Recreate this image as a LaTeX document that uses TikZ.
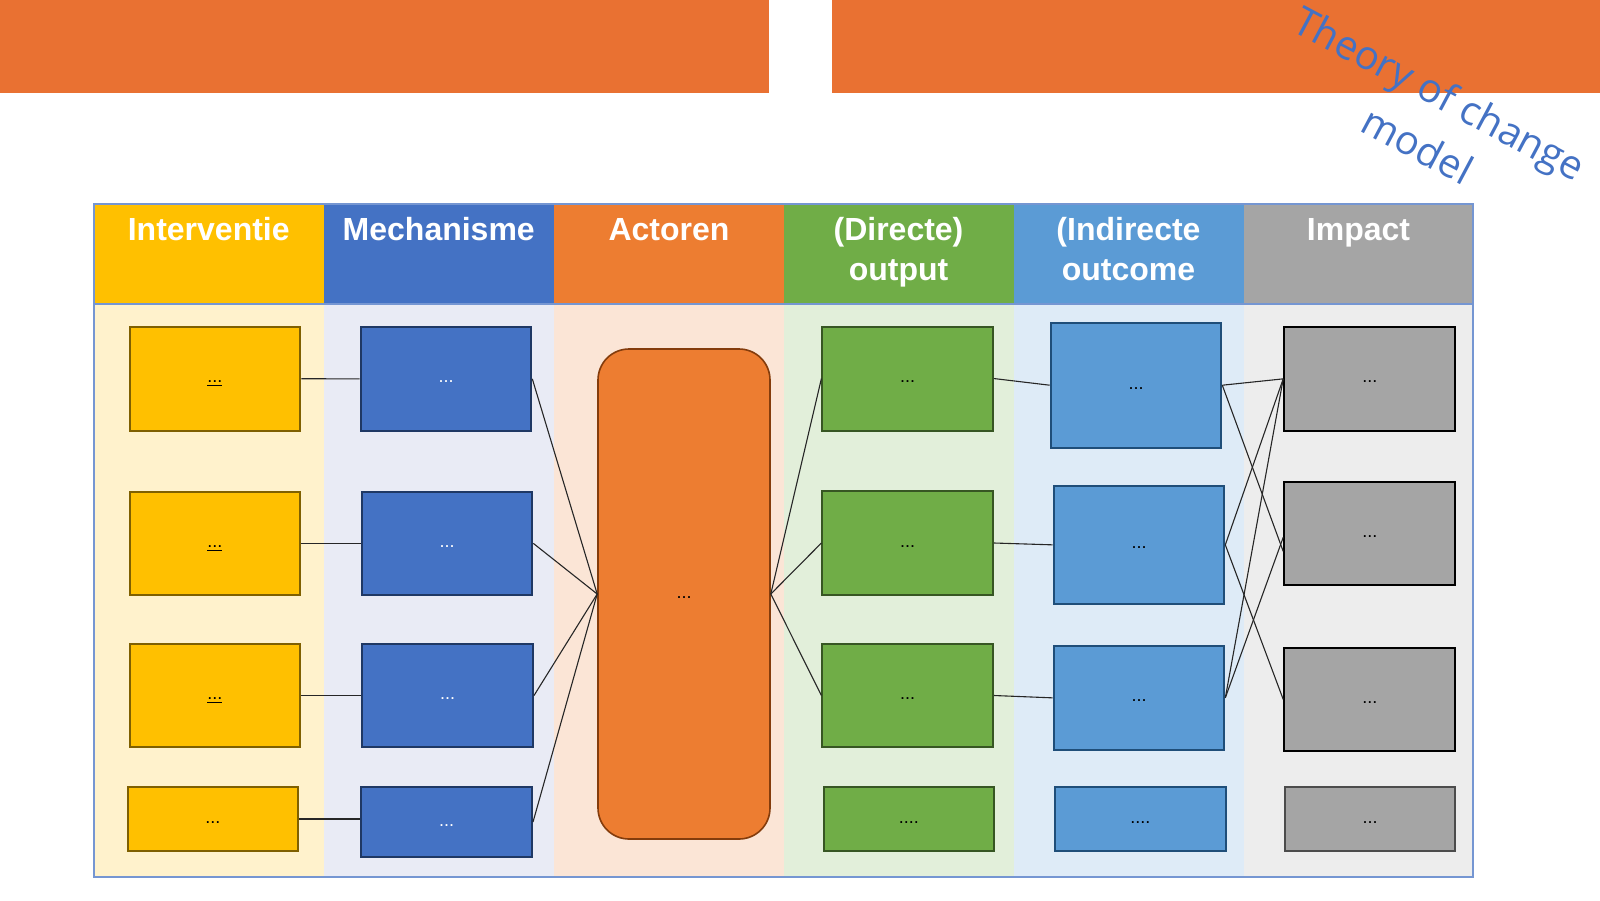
\documentclass[tikz,border=0pt]{standalone}
\usepackage{fontspec}
\setmainfont{Liberation Sans}
\newfontfamily\titlefont{Open Sans}
\usetikzlibrary{calc}
\definecolor{barorange}{HTML}{E97132}
\definecolor{hyellow}{HTML}{FFC000}
\definecolor{hblue}{HTML}{4472C4}
\definecolor{horange}{HTML}{ED7D31}
\definecolor{hgreen}{HTML}{70AD47}
\definecolor{hlblue}{HTML}{5B9BD5}
\definecolor{hgray}{HTML}{A5A5A5}
\definecolor{byellow}{HTML}{FFF2CC}
\definecolor{bblue}{HTML}{E9EBF5}
\definecolor{borange}{HTML}{FBE5D6}
\definecolor{bgreen}{HTML}{E2EFDA}
\definecolor{blblue}{HTML}{DEEBF7}
\definecolor{bgray}{HTML}{EDEDED}
\definecolor{kyellow}{HTML}{7F6000}
\definecolor{kblue}{HTML}{1F3864}
\definecolor{korange}{HTML}{843C0C}
\definecolor{kgreen}{HTML}{375623}
\definecolor{klblue}{HTML}{1F4E79}
\definecolor{tblline}{HTML}{7596D2}
\definecolor{titleblue}{HTML}{4472C4}
\newcommand\tocbox[7]{\node[#6, minimum width={(#4-#2)*0.5pt}, minimum height={(#5-#3)*0.5pt}] (#1) at ({(#2+#4)/2},{(#3+#5)/2}) {\raisebox{-2pt}{#7}};}
\begin{document}
\begin{tikzpicture}[x=0.5pt,y=-0.5pt,
  hdr/.style={anchor=base, text=white, font=\fontsize{16}{20}\selectfont\bfseries, align=center, inner sep=0pt},
  ttl/.style={anchor=base, rotate=-28, text=titleblue, font=\titlefont\fontsize{20}{24}\selectfont, inner sep=0pt},
  tbox/.style={draw, line width=1pt, inner sep=0pt, text height=0pt, text depth=0pt, font=\fontsize{9}{11}\selectfont},
  ybox/.style={tbox, fill=hyellow, draw=kyellow},
  mbox/.style={tbox, fill=hblue, draw=kblue, text=white},
  abox/.style={tbox, fill=horange, draw=korange, line width=0.8pt, rounded corners=15.5pt},
  obox/.style={tbox, fill=hgreen, draw=kgreen},
  cbox/.style={tbox, fill=hlblue, draw=klblue},
  pbox/.style={tbox, fill=hgray, draw=black, line width=1.1pt},
  pboxlast/.style={tbox, fill=hgray, draw=black!70},
  link/.style={draw=black!85, line width=0.55pt}]
\useasboundingbox (0,0) rectangle (1600,900);
% top bars
\fill[barorange] (0,0) rectangle (769,93);
\fill[barorange] (832,0) rectangle (1600,93);
% columns
\fill[hyellow] (94,204) rectangle (323.5,304);
\fill[hblue] (323.5,204) rectangle (554,304);
\fill[horange] (554,204) rectangle (784,304);
\fill[hgreen] (784,204) rectangle (1013.5,304);
\fill[hlblue] (1013.5,204) rectangle (1244,304);
\fill[hgray] (1244,204) rectangle (1473,304);
\fill[byellow] (94,304) rectangle (323.5,877);
\fill[bblue] (323.5,304) rectangle (554,877);
\fill[borange] (554,304) rectangle (784,877);
\fill[bgreen] (784,304) rectangle (1013.5,877);
\fill[blblue] (1013.5,304) rectangle (1244,877);
\fill[bgray] (1244,304) rectangle (1473,877);
\draw[tblline, line width=0.9pt] (94,204) rectangle (1473,877);
\draw[tblline, line width=0.9pt] (94,304) -- (1473,304);
% headers
\node[hdr] (h1) at (208.75,240) {Interventie};
\node[hdr] (h2) at (438.75,240) {Mechanisme};
\node[hdr] (h3) at (669,240) {Actoren};
\node[hdr] (h4) at (898.5,280) {(Directe)\\output};
\node[hdr] (h5) at (1128.5,280) {(Indirecte\\outcome};
\node[hdr] (h6) at (1358.5,240) {Impact};
% title
\node[ttl] (t1) at (1433,106) {Theory of change};
\node[ttl] (t2) at (1411,158) {model};
% boxes
\tocbox{I1}{129.5}{326.5}{300.3}{431}{ybox}{\underline{...}}
\tocbox{I2}{129.5}{491.7}{300.3}{595}{ybox}{\underline{...}}
\tocbox{I3}{129.5}{644}{300.3}{747}{ybox}{\underline{...}}
\tocbox{I4}{127.5}{787}{298}{851}{ybox}{...}
\tocbox{M1}{360.7}{326.7}{531.3}{431}{mbox}{...}
\tocbox{M2}{361.7}{491.7}{532.3}{595}{mbox}{...}
\tocbox{M3}{362}{644}{533}{747}{mbox}{...}
\tocbox{M4}{361}{787}{532}{857}{mbox}{...}
\tocbox{A}{598}{349}{770}{839}{abox}{...}
\tocbox{O1}{822.4}{326.5}{993}{430.6}{obox}{...}
\tocbox{O2}{822.4}{491}{993}{595}{obox}{...}
\tocbox{O3}{822.4}{644}{993}{747}{obox}{...}
\tocbox{O4}{823.5}{787}{994}{851}{obox}{....}
\tocbox{C1}{1050.7}{322.7}{1221.3}{447.7}{cbox}{...}
\tocbox{C2}{1053.7}{485.7}{1224.3}{604}{cbox}{...}
\tocbox{C3}{1053.7}{645.7}{1224.3}{750}{cbox}{...}
\tocbox{C4}{1055}{787}{1225.5}{851}{cbox}{....}
\tocbox{P1}{1284.3}{326.7}{1455.3}{431}{pbox}{...}
\tocbox{P2}{1284.3}{481.7}{1455.3}{585}{pbox}{...}
\tocbox{P3}{1284.3}{647.7}{1455.3}{751}{pbox}{...}
\tocbox{P4}{1285}{787}{1455}{851}{pboxlast}{...}
% connectors
\draw[link] (I1.east) -- (M1.west);
\draw[link] (I2.east) -- (M2.west);
\draw[link] (I3.east) -- (M3.west);
\draw[link] (I4.east) -- (I4.east -| M4.west);
\draw[link] (M1.east) -- (A.west);
\draw[link] (M2.east) -- (A.west);
\draw[link] (M3.east) -- (A.west);
\draw[link] (M4.east) -- (A.west);
\draw[link] (A.east) -- (O1.west);
\draw[link] (A.east) -- (O2.west);
\draw[link] (A.east) -- (O3.west);
\draw[link] (O1.east) -- (C1.west);
\draw[link] (O2.east) -- (C2.west);
\draw[link] (O3.east) -- (C3.west);
\draw[link] (C1.east) -- (P1.west);
\draw[link] (C1.east) -- ($(P2.west)+(0,18)$);
\draw[link] (C2.east) -- (P1.west);
\draw[link] (C2.east) -- (P3.west);
\draw[link] (C3.east) -- (P1.west);
\draw[link] (C3.east) -- ($(P2.west)+(0,4)$);
\end{tikzpicture}
\end{document}
